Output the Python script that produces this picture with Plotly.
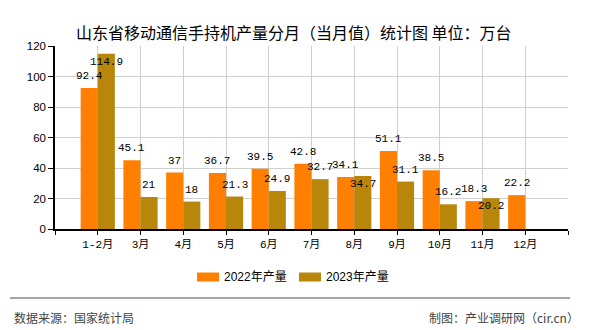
import plotly.graph_objects as go

categories = ["1-2月", "3月", "4月", "5月", "6月", "7月", "8月", "9月", "10月", "11月", "12月"]
values_2022 = [92.4, 45.1, 37, 36.7, 39.5, 42.8, 34.1, 51.1, 38.5, 18.3, 22.2]
values_2023 = [114.9, 21, 18, 21.3, 24.9, 32.7, 34.7, 31.1, 16.2, 20.2, None]
series_names = ["2022年产量", "2023年产量"]
colors = ["#FF8000", "#B8860B"]
y_ticks = [0, 20, 40, 60, 80, 100, 120]
# labels drawn inside the bar (pushed down) in the original
inside_labels = {("2023", 0), ("2023", 6), ("2023", 9)}

idx = list(range(len(categories)))
bar_w = 0.4

fig = go.Figure()
for name, vals, col in [(series_names[0], values_2022, colors[0]), (series_names[1], values_2023, colors[1])]:
    fig.add_trace(go.Bar(x=idx, y=vals, name=name, marker=dict(color=col, line=dict(width=0)),
                         width=bar_w, showlegend=False))

annotations = []
for s, (key, vals) in enumerate([("2022", values_2022), ("2023", values_2023)]):
    off = -bar_w / 2 if s == 0 else bar_w / 2
    for i, v in enumerate(vals):
        if v is None:
            continue
        txt = f"{v:g}"
        ys = -8 if (key, i) in inside_labels else 12
        annotations.append(dict(x=i + off, y=v, xref="x", yref="y", text=txt, showarrow=False,
                                yshift=ys, xanchor="center", yanchor="middle",
                                font=dict(family="Liberation Mono, monospace", size=11, color="#000")))

# title
annotations.append(dict(x=294, y=18, xref="paper", yref="paper", text="山东省移动通信手持机产量分月（当月值）统计图 单位：万台",
                        showarrow=False, font=dict(family="Noto Sans CJK SC", size=16, color="#000")))

fig.update_layout(
    width=590, height=330,
    margin=dict(l=55, r=22, t=46, b=101),
    paper_bgcolor="white", plot_bgcolor="white",
    barmode="group", bargap=0.2, bargroupgap=0,
    xaxis=dict(range=[-1, 11], tickvals=list(range(-1, 12)), ticktext=[""] + categories + [""],
               showgrid=True, gridcolor="#d0d0d0", gridwidth=1,
               showline=True, linecolor="#000", linewidth=1.5,
               ticks="outside", ticklen=4, tickcolor="#000",
               tickfont=dict(family="Liberation Mono, Noto Sans CJK SC", size=11, color="#000"),
               zeroline=False),
    yaxis=dict(range=[0, 120], tickvals=y_ticks, showgrid=True, gridcolor="#d0d0d0", gridwidth=1,
               showline=True, linecolor="#000", linewidth=1.5,
               ticks="outside", ticklen=5, tickcolor="#000",
               tickfont=dict(family="Liberation Sans, Arial", size=11.5, color="#000"),
               zeroline=False),
)

# convert paper px for title/legend/footer
W, H = 590, 330
l, r, t, b = 55, 22, 46, 101
pw, ph = W - l - r, H - t - b
def px(x):
    return (x - l) / pw
def py(y):
    return 1 - (y - t) / ph

annotations[-1].update(x=px(294), y=py(18))

shapes = []
legend_items = [(series_names[0], colors[0], 197), (series_names[1], colors[1], 299)]
for name, col, x0 in legend_items:
    shapes.append(dict(type="rect", xref="paper", yref="paper", x0=px(x0), x1=px(x0 + 22),
                       y0=py(281.5), y1=py(272.5), fillcolor=col, line=dict(width=0)))
    annotations.append(dict(x=px(x0 + 25), y=py(277), xref="paper", yref="paper", text=name,
                            showarrow=False, xanchor="left", yanchor="middle",
                            font=dict(family="Liberation Sans, Noto Sans CJK SC", size=12, color="#000")))

shapes.append(dict(type="line", xref="paper", yref="paper", x0=px(10), x1=px(570), y0=py(298), y1=py(298),
                   line=dict(color="#888", width=1.5)))
annotations.append(dict(x=px(12), y=py(317), xref="paper", yref="paper", text="数据来源：国家统计局",
                        showarrow=False, xanchor="left", yanchor="middle",
                        font=dict(family="Noto Sans CJK SC", size=12, color="#444")))
annotations.append(dict(x=px(581), y=py(317), xref="paper", yref="paper", text="制图：产业调研网（cir.cn）",
                        showarrow=False, xanchor="right", yanchor="middle",
                        font=dict(family="Noto Sans CJK SC", size=12, color="#444")))

fig.update_layout(annotations=annotations, shapes=shapes)
fig.write_html("out.html")
